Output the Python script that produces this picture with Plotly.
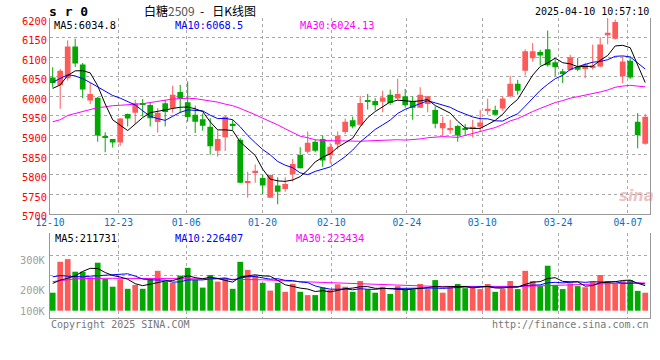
import plotly.graph_objects as go
import pandas as pd

# ---------------- data ----------------
tick_pos = [-0.36, 8.77, 17.81, 27.97, 37.15, 47.23, 57.27, 67.4, 76.69]
tick_labels = ["12-10", "12-23", "01-06", "01-20", "02-10", "02-24", "03-10", "03-24", "04-07"]

open_ = [6048, 6028, 6046, 6127, 6081, 5989, 5996, 5896, 5891, 5882,
         5955, 5958, 5982, 5978, 5934, 5982, 5970, 6011, 5985, 5953,
         5941, 5922, 5861, 5895, 5930, 5889, 5780, 5806, 5791, 5741,
         5772, 5763, 5801, 5850, 5858, 5884, 5891, 5849, 5877, 5909,
         5939, 5927, 5990, 5988, 5986, 6004, 5994, 6000, 5988, 5971,
         5980, 5965, 5918, 5913, 5924, 5918, 5917, 5922, 5964, 5965,
         5969, 6000, 6032, 6065, 6097, 6113, 6120, 6087, 6064, 6067,
         6075, 6070, 6072, 6076, 6156, 6147, 6051, 6091, 5935, 5879]
high = [6074, 6070, 6143, 6147, 6085, 6034, 5998, 5908, 5891, 5944,
        5956, 5991, 5993, 5985, 5970, 5991, 6027, 6029, 6038, 5976,
        5956, 5944, 5912, 5950, 5940, 5893, 5807, 5826, 5800, 5800,
        5793, 5793, 5840, 5870, 5910, 5889, 5900, 5880, 5910, 5943,
        5948, 6001, 6006, 5995, 6014, 6017, 6045, 6019, 6000, 6023,
        6001, 5974, 5948, 5940, 5927, 5929, 5940, 5965, 5994, 5976,
        6000, 6052, 6042, 6120, 6136, 6119, 6168, 6095, 6070, 6106,
        6098, 6085, 6132, 6151, 6200, 6196, 6102, 6102, 5957, 5955]
low = [6022, 5968, 6040, 6075, 5995, 5980, 5884, 5857, 5869, 5873,
       5923, 5929, 5948, 5923, 5907, 5923, 5958, 5957, 5935, 5906,
       5912, 5851, 5846, 5860, 5914, 5778, 5741, 5779, 5750, 5741,
       5724, 5756, 5782, 5816, 5854, 5857, 5820, 5828, 5864, 5903,
       5918, 5924, 5966, 5964, 5959, 5978, 5991, 5971, 5940, 5970,
       5959, 5918, 5901, 5904, 5884, 5900, 5895, 5910, 5953, 5952,
       5963, 5997, 6004, 6053, 6089, 6079, 6076, 6051, 6034, 6065,
       6064, 6046, 6068, 6074, 6133, 6145, 6034, 6044, 5867, 5876]
close = [6034, 6065, 6127, 6084, 6017, 6006, 5900, 5894, 5882, 5943,
         5943, 5982, 5978, 5944, 5958, 5960, 6004, 5994, 5947, 5935,
         5925, 5872, 5891, 5948, 5926, 5779, 5782, 5810, 5772, 5799,
         5756, 5776, 5827, 5816, 5881, 5861, 5836, 5871, 5899, 5935,
         5923, 5983, 5987, 5977, 5997, 5983, 6006, 5977, 5971, 6004,
         6000, 5930, 5932, 5919, 5900, 5916, 5922, 5933, 5968, 5953,
         5994, 6032, 6014, 6115, 6115, 6104, 6079, 6074, 6057, 6100,
         6068, 6081, 6078, 6132, 6162, 6190, 6089, 6048, 5901, 5948]

volume = [191000, 294000, 303000, 261000, 261000, 242000, 291000, 237000, 211000, 236000,
          204000, 217000, 204000, 236000, 264000, 228000, 224000, 248000, 274000, 233000,
          208000, 250000, 228000, 241000, 204000, 294000, 267000, 247000, 224000, 198000,
          224000, 194000, 221000, 194000, 183000, 183000, 208000, 200000, 219000, 211000,
          194000, 230000, 202000, 191000, 211000, 187000, 213000, 202000, 202000, 220000,
          203000, 233000, 191000, 209000, 220000, 206000, 211000, 203000, 220000, 194000,
          203000, 230000, 203000, 264000, 230000, 213000, 281000, 217000, 203000, 222000,
          213000, 209000, 227000, 250000, 230000, 222000, 230000, 233000, 197000, 191000]

ma5_head = [6020, 6029, 6053, 6065]
ma10_head = [6036, 6046, 6055, 6052, 6045, 6035, 6024, 6013, 6002]
ma30 = [5935, 5940, 5951, 5956, 5961, 5966, 5971, 5973, 5976, 5977,
        5978, 5980, 5981, 5984, 5987, 5990, 5993, 5994, 5995, 5994,
        5991, 5988, 5985, 5980, 5976, 5969, 5962, 5953, 5944, 5936,
        5927, 5917, 5907, 5898, 5894, 5889, 5887, 5886, 5886, 5886,
        5885, 5885, 5886, 5887, 5888, 5889, 5889, 5888, 5889, 5891,
        5894, 5896, 5897, 5896, 5895, 5900, 5905, 5909, 5915, 5920,
        5928, 5937, 5943, 5953, 5961, 5969, 5977, 5984, 5989, 5995,
        5999, 6003, 6006, 6011, 6016, 6023, 6026, 6028, 6026, 6024.13]

vol_ma5_head = [222000, 233000, 239000, 247000]
vol_ma10_head = [244000, 248000, 246000, 244000, 244000, 246000, 248000, 249000, 250000]
vol_ma30 = [228000, 231000, 235000, 237000, 238000, 239000, 239000, 239000, 239000, 239000,
            238000, 238000, 237000, 237000, 237000, 237000, 237000, 237000, 238000, 238000,
            238000, 237000, 237000, 236000, 236000, 236000, 236000, 235000, 234000, 233000,
            231000, 230000, 229000, 228000, 227000, 226000, 225000, 224000, 223000, 222000,
            221000, 220000, 219000, 218000, 217000, 216000, 215000, 214000, 213000, 213000,
            212000, 212000, 212000, 212000, 211000, 211000, 211000, 210000, 210000, 210000,
            210000, 211000, 211000, 212000, 213000, 214000, 215000, 216000, 217000, 218000,
            219000, 220000, 221000, 222000, 222000, 223000, 223000, 223500, 223500, 223434]

price_ticks = [5700, 5750, 5800, 5850, 5900, 5950, 6000, 6050, 6100, 6150, 6200]
vol_grid_vals = [249000, 315700]
vol_label_vals = [500000, 400000, 300000, 200000, 131000]
vol_label_text = ["500K", "400K", "300K", "200K", "100K"]

title_name = "白糖"
title_code = "2509"
title_rest = "\u00a0\u00a0-\u00a0\u00a0\u00a0日K线图"
symbol = "s r 0"
stamp = "2025-04-10 10:57:10"
legend_main = ["MA5:6034.8", "MA10:6068.5", "MA30:6024.13"]
legend_vol = ["MA5:211731", "MA10:226407", "MA30:223434"]

# ---------------- derived ----------------
n = len(close)
idx = list(range(n))
cs = pd.Series(close, dtype=float)
ma5 = cs.rolling(5).mean().tolist()
ma5[:4] = ma5_head
ma10 = cs.rolling(10).mean().tolist()
ma10[:9] = ma10_head
vs = pd.Series(volume, dtype=float)
vma5 = vs.rolling(5).mean().tolist()
vma5[:4] = vol_ma5_head
vma10 = vs.rolling(10).mean().tolist()
vma10[:9] = vol_ma10_head

RED = "#ff5a5a"
GREEN = "#00a800"
up = [c >= o for o, c in zip(open_, close)]
colors = [RED if u else GREEN for u in up]
body_base = [min(o, c) for o, c in zip(open_, close)]
body_h = [max(abs(c - o), 2.2) for o, c in zip(open_, close)]

def wick_xy(flag):
    xs, ys = [], []
    for i in idx:
        if up[i] == flag:
            xs += [i, i, None]
            ys += [low[i], high[i], None]
    return xs, ys

MONO = "DejaVu Sans Mono"
fig = go.Figure()

for flag, col in [(True, RED), (False, GREEN)]:
    wx, wy = wick_xy(flag)
    fig.add_trace(go.Scatter(x=wx, y=wy, mode="lines", line=dict(color=col, width=1),
                             xaxis="x", yaxis="y", hoverinfo="skip", showlegend=False))
fig.add_trace(go.Bar(x=idx, y=body_h, base=body_base, width=0.76,
                     marker=dict(color=colors, line=dict(width=0)),
                     xaxis="x", yaxis="y", showlegend=False))
for arr, col in [(ma30, "#ff00ff"), (ma10, "#0000ff"), (ma5, "#000000")]:
    fig.add_trace(go.Scatter(x=idx, y=arr, mode="lines", line=dict(color=col, width=1),
                             xaxis="x", yaxis="y", showlegend=False))

fig.add_trace(go.Bar(x=idx, y=[v - 131000 for v in volume], base=131000, width=0.76,
                     marker=dict(color=colors, line=dict(width=0)),
                     xaxis="x2", yaxis="y2", showlegend=False))
for arr, col in [(vol_ma30, "#ff00ff"), (vma10, "#0000ff"), (vma5, "#000000")]:
    fig.add_trace(go.Scatter(x=idx, y=arr, mode="lines", line=dict(color=col, width=1),
                             xaxis="x2", yaxis="y2", showlegend=False))

GRID = "#aaaaaa"
AX = "#999999"
xcommon = dict(range=[-0.36, 79.64], tickmode="array", tickvals=tick_pos,
               showgrid=True, gridcolor=GRID, griddash="dot", gridwidth=1,
               zeroline=False, showline=True, linecolor=AX, linewidth=1, ticks="")
fig.update_layout(
    width=660, height=360, margin=dict(l=50, r=10, t=18, b=42),
    paper_bgcolor="white", plot_bgcolor="white", barmode="overlay",
    showlegend=False,
    xaxis=dict(**xcommon, ticktext=tick_labels, anchor="y",
               tickfont=dict(family=MONO, size=9.6, color="#0a6fc2")),
    xaxis2=dict(**xcommon, matches="x", anchor="y2", showticklabels=False),
    yaxis=dict(domain=[0.3477, 1.0], range=[5700, 6200], tickmode="array", tickvals=price_ticks,
               showgrid=True, gridcolor=GRID, griddash="dot", zeroline=False,
               showline=True, linecolor=AX, mirror=True, ticks="",
               tickfont=dict(family=MONO, size=10.4, color="#ff0000"), ticklabelshift=3),
    yaxis2=dict(domain=[0.0, 0.2843], range=[106667, 391000], tickmode="array",
                tickvals=vol_grid_vals, showticklabels=False,
                showgrid=True, gridcolor=GRID, griddash="dot", zeroline=False,
                showline=True, linecolor=AX, mirror=True, ticks=""),
)

def px(x):
    return (x - 50) / 600

def py(y):
    return (318 - y) / 300

ann = []
def add(text, x, y, size, color, xanchor="left", family=MONO, yref="paper", yv=None):
    ann.append(dict(text=text, x=px(x), y=(py(y) if yv is None else yv), xref="paper", yref=yref,
                    xanchor=xanchor, yanchor="middle", showarrow=False,
                    font=dict(family=family, size=size, color=color)))

add("<b>" + symbol + "</b>", 47, 12, 13, "#000000")
add(title_name + '<span style="color:#555555">' + title_code + "</span>" + title_rest,
    200, 10, 12, "#000000", xanchor="center", family="Noto Sans CJK SC")
add(stamp, 651, 12, 10, "#000000", xanchor="right")
for t, x, c in zip(legend_main, [52, 173, 298], ["#000000", "#0000ff", "#ff00ff"]):
    add(t, x, 25, 10.3, c)
for t, x, c in zip(legend_vol, [53, 173, 294], ["#000000", "#0000ff", "#ff00ff"]):
    add(t, x, 238, 10.3, c)
for t, v in zip(vol_label_text, vol_label_vals):
    add(t, 48, 0, 10.3, "#a0a0a0", xanchor="right", yref="y2", yv=v)
add("Copyright 2025 SINA.COM", 49, 324, 10, "#777777")
add("http://finance.sina.com.cn", 651, 324, 10, "#777777", xanchor="right")
add("<b><i>sina</i></b>", 636, 196, 15, "rgba(215,120,120,0.45)", xanchor="center",
    family="DejaVu Sans")
fig.update_layout(annotations=ann)

fig.write_html("out.html", config={"displayModeBar": False},
               post_script="document.body.style.margin='0';document.body.style.overflow='hidden';")
